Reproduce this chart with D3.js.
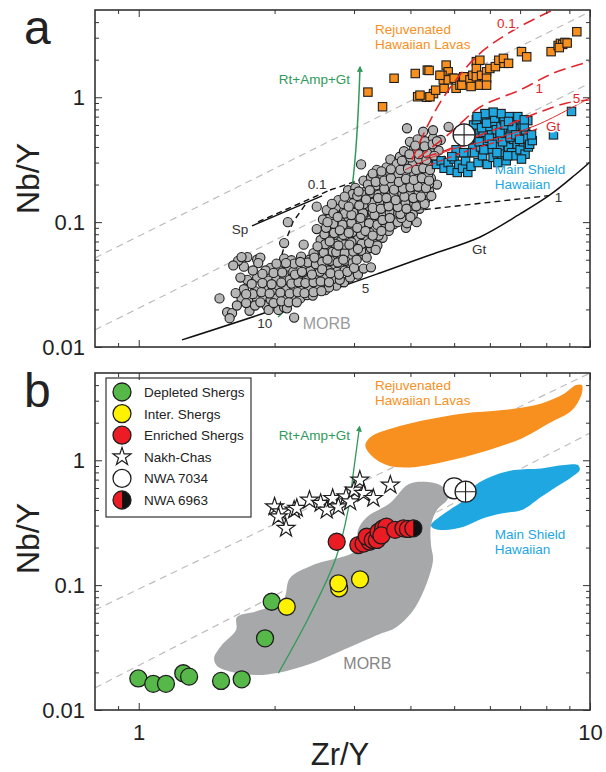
<!DOCTYPE html>
<html lang="en">
<head>
<meta charset="utf-8">
<title>Nb/Y vs Zr/Y</title>
<script src="https://d3js.org/d3.v7.min.js"></script>
<style>
  body { margin: 0; background: #fff; }
  svg { display: block; font-family: "Liberation Sans", Arial, sans-serif; }
</style>
</head>
<body>
<div id="chart"></div>
<script>
// ---------- axis ticks ----------
const xMajor = [1, 10];
const xMinor = [0.9, 2, 3, 4, 5, 6, 7, 8, 9];
const yMajor = [0.01, 0.1, 1];
const yMinor = [0.02, 0.03, 0.04, 0.05, 0.06, 0.07, 0.08, 0.09,
                0.2, 0.3, 0.4, 0.5, 0.6, 0.7, 0.8, 0.9, 2, 3, 4];

// ---------- panel a : points [Zr/Y, Nb/Y] ----------
const morbPoints = [
  [1.51,0.0245],[1.57,0.019],[1.61,0.0187],[1.59,0.017],[1.76,0.0195],[1.92,0.0215],[1.94,0.0198],[2.04,0.0198],[2.10,0.0208],[2.13,0.0204],[2.21,0.0172],
  [1.69,0.0245],[1.77,0.0248],[1.83,0.024],[1.89,0.0255],[1.96,0.024],[2.01,0.0258],[2.10,0.024],[2.19,0.025],[2.28,0.0245],[2.36,0.026],[2.43,0.0258],[2.59,0.0285],[2.74,0.031],
  [1.71,0.029],[1.81,0.028],[1.92,0.030],[1.98,0.0285],[2.04,0.031],[2.12,0.029],[2.21,0.0305],[2.29,0.0285],[2.38,0.030],[2.48,0.0295],[2.64,0.030],[2.85,0.033],[2.94,0.036],[3.06,0.038],
  [1.74,0.0345],[1.83,0.036],[1.94,0.034],[2.02,0.0355],[2.10,0.037],[2.16,0.0345],[2.27,0.0365],[2.36,0.035],[2.48,0.036],[2.58,0.0375],[2.69,0.035],
  [1.71,0.044],[1.96,0.043],[2.04,0.0415],[2.14,0.044],[2.25,0.042],[2.34,0.045],[2.43,0.0425],[2.58,0.044],[2.69,0.046],[2.80,0.043],[2.91,0.045],[3.15,0.0425],[3.27,0.0435],
  [1.66,0.049],[1.74,0.0525],[1.83,0.050],[1.86,0.052],[1.91,0.041],[1.84,0.047],[2.10,0.051],[2.18,0.0495],[2.29,0.053],[2.39,0.050],[2.51,0.052],[2.61,0.055],[2.71,0.051],[2.80,0.054],[2.94,0.052],[3.08,0.055],
  [2.10,0.068],[2.32,0.066],[2.53,0.060],[2.61,0.063],[2.69,0.058],[2.80,0.062],[2.91,0.060],[3.02,0.064],[3.18,0.058],[3.27,0.062],
  [2.53,0.072],[2.66,0.076],[2.80,0.070],[2.91,0.078],[3.06,0.073],[3.18,0.077],[3.31,0.071],[3.47,0.075],
  [2.14,0.100],[2.48,0.088],[2.64,0.085],[2.74,0.092],[2.85,0.088],[2.97,0.094],[3.09,0.086],[3.21,0.091],[3.34,0.087],[3.58,0.085],[3.91,0.090],
  [2.56,0.105],[2.66,0.112],[2.80,0.104],[2.91,0.110],[3.02,0.106],[3.15,0.114],[3.27,0.104],[3.40,0.110],[3.54,0.106],[3.69,0.112],[3.93,0.098],[4.13,0.100],
  [2.48,0.133],[2.61,0.125],[2.74,0.132],[2.85,0.122],[3.00,0.130],[3.12,0.124],[3.24,0.134],[3.37,0.126],[3.51,0.132],[3.65,0.124],[3.83,0.130],[3.99,0.124],[4.19,0.128],
  [2.77,0.150],[2.94,0.156],[3.06,0.148],[3.21,0.158],[3.34,0.150],[3.47,0.160],[3.61,0.150],[3.79,0.156],[3.99,0.148],[4.15,0.158],[4.31,0.150],
  [2.91,0.180],[3.02,0.188],[3.18,0.176],[3.31,0.186],[3.44,0.178],[3.58,0.190],[3.76,0.180],[3.91,0.188],[4.07,0.178],[4.23,0.186],[4.40,0.178],[4.58,0.200],
  [3.15,0.215],[3.27,0.228],[3.40,0.212],[3.54,0.230],[3.69,0.218],[3.83,0.232],[3.99,0.215],[4.15,0.228],[4.31,0.212],[4.44,0.225],
  [3.11,0.290],[3.37,0.262],[3.54,0.275],[3.69,0.258],[3.87,0.272],[4.02,0.260],[4.19,0.278],[4.31,0.262],
  [3.61,0.318],[3.79,0.334],[3.95,0.310],[4.10,0.330],[4.27,0.315],[4.40,0.335],
  [3.87,0.370],[4.07,0.385],[4.27,0.365],[4.44,0.395],[4.62,0.375],
  [3.99,0.440],[4.15,0.460],[4.31,0.445],[4.49,0.470],[4.67,0.455],
  [3.93,0.565],[4.27,0.530],[4.49,0.545],[4.86,0.580],
  [1.79,0.0265],[1.87,0.0275],[1.95,0.0268],[2.06,0.0272],[2.16,0.0268],[2.25,0.0275],[2.33,0.0270],[2.44,0.0275],[2.54,0.0280],
  [1.78,0.0320],[1.88,0.0325],[1.97,0.0318],[2.07,0.0328],[2.18,0.0322],[2.26,0.0330],[2.34,0.0325],[2.44,0.0330],[2.53,0.0335],[2.64,0.0330],[2.79,0.0345],
  [1.88,0.0385],[1.99,0.0392],[2.08,0.0395],[2.20,0.0400],[2.31,0.0395],[2.40,0.0405],[2.52,0.0400],[2.63,0.0410],[2.75,0.0400],[2.86,0.0410],
  [2.02,0.0465],[2.21,0.0465],[2.37,0.0475],[2.47,0.0460],[2.55,0.0480],[2.66,0.0490],[2.76,0.0475],[2.87,0.0490],[2.98,0.0470],
  [2.44,0.0565],[2.57,0.0570],[2.74,0.0575],[2.86,0.0565],[2.99,0.0580],[3.11,0.0590],
  [2.59,0.0665],[2.73,0.0670],[2.86,0.0660],[2.96,0.0690],[3.12,0.0670],[3.24,0.0680],[3.38,0.0650],
  [2.58,0.080],[2.71,0.082],[2.84,0.079],[2.97,0.083],[3.11,0.080],[3.25,0.082],[3.40,0.078],
  [2.70,0.097],[2.83,0.095],[2.96,0.099],[3.10,0.096],[3.24,0.098],[3.38,0.095],[3.52,0.097],[3.67,0.096],
  [2.70,0.118],[2.86,0.117],[2.99,0.119],[3.14,0.118],[3.30,0.120],[3.45,0.117],[3.60,0.119],[3.76,0.118],[4.05,0.115],
  [2.84,0.140],[2.99,0.142],[3.15,0.139],[3.29,0.143],[3.43,0.140],[3.57,0.142],[3.72,0.139],[3.90,0.141],[4.08,0.140],[4.25,0.138],
  [2.98,0.168],[3.13,0.166],[3.26,0.170],[3.40,0.166],[3.52,0.170],[3.67,0.167],[3.84,0.170],[4.00,0.166],[4.17,0.170],[4.35,0.166],
  [3.22,0.200],[3.36,0.197],[3.49,0.202],[3.63,0.198],[3.78,0.202],[3.93,0.197],[4.09,0.202],[4.25,0.197],[4.40,0.203],
  [3.30,0.245],[3.46,0.242],[3.61,0.247],[3.76,0.243],[3.92,0.247],[4.08,0.243],[4.24,0.247],[4.38,0.243],
  [3.73,0.292],[3.90,0.290],[4.05,0.295],[4.22,0.290],[4.36,0.295],
  [1.65,0.0215],[1.73,0.0225],[1.81,0.0215],[1.86,0.0228],[1.99,0.0225],[2.07,0.0232],[2.15,0.0228],[2.24,0.0228],
  [1.64,0.027],[1.73,0.0265],[1.68,0.036],[1.62,0.045],[1.79,0.041],[1.69,0.0525],
  [2.22,0.038],[2.30,0.040],[2.42,0.038],[2.55,0.042],[2.66,0.039],[2.78,0.038],[2.90,0.040],[3.00,0.043],
  [2.12,0.047],[2.28,0.048],[2.45,0.052],[2.62,0.050],[2.84,0.050],[3.04,0.050],[3.20,0.052],
  [2.49,0.064],[2.65,0.070],[2.77,0.065],[2.93,0.066],[3.06,0.061],[3.35,0.060],
  [2.60,0.090],[2.79,0.086],[2.92,0.082],[3.05,0.090],[3.18,0.085],[3.30,0.078],[3.45,0.085],[3.60,0.092],[3.75,0.100],[3.82,0.108],
  [2.62,0.100],[2.76,0.110],[2.96,0.114],[3.10,0.108],[3.33,0.114],[3.47,0.104],[3.60,0.108],[3.80,0.116],[4.00,0.110],
  [2.68,0.140],[2.92,0.133],[3.08,0.136],[3.30,0.130],[3.44,0.128],[3.58,0.134],[3.75,0.132],[3.92,0.128],[4.12,0.134],[4.30,0.140],
  [2.86,0.160],[3.05,0.162],[3.19,0.152],[3.39,0.156],[3.54,0.156],[3.71,0.150],[3.88,0.160],[4.06,0.156],[4.22,0.160],[4.45,0.162],
  [3.07,0.176],[3.25,0.180],[3.50,0.185],[3.68,0.182],[3.85,0.186],[4.00,0.190],[4.16,0.192],[4.33,0.188],
  [3.35,0.210],[3.50,0.215],[3.62,0.225],[3.77,0.210],[3.91,0.222],[4.07,0.218],[4.24,0.225],[4.40,0.215],
  [3.45,0.255],[3.62,0.265],[3.80,0.262],[3.95,0.268],[4.12,0.262],[4.27,0.270],[4.42,0.262],
  [3.83,0.310],[4.00,0.330],[4.18,0.320],[4.34,0.315],[3.98,0.350],[4.18,0.350],[4.36,0.355],[4.52,0.340],
  [4.10,0.410],[4.30,0.405],[4.48,0.420],[4.58,0.445]
];

const rejuvenatedPoints = [
  [3.22,1.10],[3.47,0.84],[3.68,1.42],[4.10,1.55],[4.36,1.65],[4.15,1.01],[4.35,1.00],[4.50,1.07],
  [4.42,1.01],[4.20,1.04],[4.55,1.14],[4.75,1.18],[4.80,1.81],[4.85,1.60],[4.70,1.50],[4.95,1.42],
  [4.73,1.38],[4.85,1.38],[5.00,1.42],[5.05,1.18],[5.15,1.25],[5.20,1.25],[5.25,1.46],[5.42,1.38],
  [5.45,1.22],[5.50,1.50],[5.60,1.93],[5.60,1.70],[5.60,1.46],[5.70,1.98],[5.70,1.25],[5.75,1.50],
  [5.90,1.60],[5.90,1.42],[5.90,1.25],[6.00,1.70],[6.17,1.76],[6.28,1.98],[6.45,1.87],[6.43,2.05],
  [6.60,1.87],[7.05,2.32],[7.24,2.11],[8.20,2.32],[8.50,2.60],[8.60,2.70],[8.70,2.65],[8.80,2.75],
  [8.55,2.50],[8.90,2.72],[9.35,3.35],[4.40,1.64],[4.65,1.50]
];

const mainShieldPoints = [
  [4.57,0.29],[4.68,0.31],[4.75,0.27],[4.85,0.30],[4.92,0.26],[5.00,0.32],[5.08,0.25],[5.12,0.29],
  [5.22,0.27],[5.30,0.31],[5.36,0.25],[5.45,0.28],[5.40,0.36],[5.15,0.36],[5.05,0.38],[4.94,0.335],[5.25,0.36],
  [5.50,0.42],[5.55,0.36],[5.62,0.48],[5.58,0.55],[5.65,0.30],[5.70,0.62],[5.72,0.40],[5.78,0.34],
  [5.80,0.52],[5.85,0.68],[5.88,0.45],[5.92,0.29],[5.95,0.58],[6.00,0.38],[6.02,0.72],[6.05,0.50],
  [6.10,0.33],[6.12,0.63],[6.18,0.44],[6.20,0.55],[6.25,0.30],[6.28,0.70],[6.30,0.40],[6.35,0.60],
  [6.38,0.35],[6.42,0.50],[6.45,0.66],[6.50,0.45],[6.52,0.31],[6.55,0.57],[6.60,0.40],[6.62,0.70],
  [6.68,0.52],[6.70,0.36],[6.75,0.62],[6.78,0.46],[6.82,0.34],[6.88,0.56],[6.90,0.42],[6.95,0.66],
  [7.00,0.38],[7.02,0.50],[7.08,0.60],[7.12,0.44],[7.18,0.35],[7.20,0.53],[7.25,0.47],[7.30,0.40],
  [7.35,0.42],[7.28,0.65],[5.40,0.46],[5.45,0.52],[5.52,0.60],[5.60,0.66],[5.68,0.44],[5.75,0.57],
  [5.82,0.38],[5.90,0.62],[5.98,0.47],[6.07,0.42],[6.15,0.68],[6.22,0.36],[6.32,0.52],[6.40,0.44],
  [6.48,0.60],[6.57,0.34],[6.65,0.48],[6.72,0.58],[6.85,0.50],[6.98,0.46],[7.05,0.32],[7.15,0.58],
  [6.35,0.74],[6.10,0.76],[5.85,0.74],[5.62,0.70],[6.60,0.64],[6.92,0.70],[7.15,0.66],
  [7.45,0.45],[7.42,0.50],[9.10,0.77],[8.30,0.50]
];

const crossedA = [[5.26, 0.50]];

// ---------- panel a : model curves ----------
const refLinesA = [
  [[0.8,0.0517],[10,4.85]],
  [[0.8,0.0137],[10,1.30]]
];
const gtCurve = [[1.247,0.0114],[2.057,0.0206],[3.425,0.0392],[4.42,0.0546],[5.71,0.0761],
                 [7.0,0.1163],[8.15,0.1651],[9.26,0.2386],[10,0.3034]];
const blackDashed = [
  [[2.654,0.181],[4.2,0.315]],
  [[3.89,0.121],[8.1,0.163]],
  [[1.838,0.1004],[2.654,0.181]],
  [[2.337,0.1373],[2.197,0.1004],[2.12,0.072],[2.067,0.0517],[2.015,0.0287]]
];
const spCurve = [[1.782,0.0932],[2.548,0.162]];
const greenA = [[2.036,0.0174],[2.301,0.0271],[2.614,0.0498],[2.865,0.1142],[2.969,0.1878],[3.093,1.748]];
const redMelt01 = [[4.03,0.315],[4.375,0.60],[4.77,1.04],[5.65,2.18],[6.78,3.46],[8.28,5.0]];
const redMelt1 = [[4.16,0.327],[4.90,0.518],[5.71,0.836],[7.0,1.144],[8.28,1.556],[9.97,1.93]];
const redMelt5 = [[4.31,0.333],[4.82,0.3785],[5.56,0.481],[6.42,0.582],[7.75,0.763],[8.89,0.90],[9.97,0.951]];
const redMeltGt = [[4.42,0.287],[5.42,0.3785],[6.65,0.472],[7.75,0.568]];
const redSolid = [[3.89,0.262],[4.90,0.3785],[6.0,0.455],[7.63,0.60],[9.97,0.987]];

// ---------- panel b ----------
const refLinesB = [
  [[0.8,0.0632],[10,4.99]],
  [[0.8,0.015],[10,1.65]]
];
const greenB = [[2.039,0.0197],[2.385,0.0558],[2.741,0.1688],[2.910,0.3994],[2.995,0.835],[3.085,1.855]];
const rejuvenatedField = [[3.27,1.542],[3.541,1.745],[4.313,2.099],[5.25,2.374],[6.40,2.523],[7.80,2.855],
  [8.78,3.432],[9.31,4.0],[9.59,4.0],[9.59,3.43],[9.13,2.523],[8.11,1.975],[7.06,1.497],[5.80,1.17],
  [4.76,0.973],[3.985,0.877],[3.541,0.915],[3.27,1.10],[3.178,1.323]];
const mainShieldField = [[4.443,0.303],[4.76,0.376],[5.25,0.48],[5.58,0.633],[6.03,0.738],[6.79,0.835],
  [7.80,0.861],[8.78,0.915],[9.40,0.915],[9.49,0.835],[9.13,0.738],[8.43,0.614],[7.80,0.51],[7.06,0.399],
  [6.40,0.376],[5.80,0.343],[5.25,0.2935],[4.76,0.276],[4.49,0.285]];
const morbField = [[4.489,0.159],[4.287,0.0913],[4.033,0.0609],[3.698,0.0453],[3.425,0.0406],[2.939,0.0319],
  [2.396,0.02335],[2.025,0.01978],[1.829,0.01906],[1.609,0.02014],[1.491,0.0225],[1.469,0.02609],
  [1.522,0.03254],[1.643,0.0437],[1.651,0.0555],[1.829,0.062],[2.088,0.076],[2.164,0.114],[2.433,0.1448],
  [3.03,0.191],[3.061,0.276],[3.205,0.351],[3.605,0.454],[3.97,0.645],[4.376,0.669],[4.725,0.61],
  [4.846,0.498],[4.581,0.399],[4.443,0.303],[4.443,0.2095]];

const depletedShergs = [[0.998,0.0179],[1.077,0.0162],[1.149,0.0162],[1.255,0.0197],[1.293,0.0185],
  [1.522,0.0171],[1.691,0.0176],[1.971,0.0736],[1.905,0.0375]];
const interShergs = [[2.128,0.0671],[2.78,0.0943],[2.769,0.1034],[3.093,0.1113]];
const enrichedShergs = [[2.746,0.2226],[3.066,0.2095],[3.15,0.215],[3.25,0.2226],[3.20,0.244],[3.30,0.23],
  [3.37,0.23],[3.40,0.268],[3.48,0.285],[3.54,0.294],[3.45,0.25],[3.70,0.277],[3.86,0.285],[3.95,0.282]];
const nakhChas = [[2.0,0.424],[2.06,0.387],[2.04,0.353],[2.12,0.285],[2.21,0.399],[2.24,0.412],[2.39,0.48],
  [2.53,0.452],[2.61,0.399],[2.69,0.495],[2.77,0.424],[2.88,0.51],[2.94,0.465],[3.0,0.577],[3.09,0.694],
  [3.15,0.543],[3.31,0.495],[3.61,0.633]];
const nwa7034 = [[5.0,0.596]];
const crossedB = [[5.3,0.56]];
const nwa6963 = [[4.06,0.285]];

const legendItems = ["Depleted Shergs", "Inter. Shergs", "Enriched Shergs", "Nakh-Chas", "NWA 7034", "NWA 6963"];

// ---------- colours ----------
const C = {
  orange: "#f7901e", blue: "#1ea7e1", gray: "#a7a8aa", pt: "#b6b6b6",
  green: "#56b848", yellow: "#fff200", red: "#ec1c24", line: "#2f9a5a", redLine: "#e2262b",
  ref: "#bdbdbd", ink: "#1e1e1e"
};

const W = 606, H = 772;
const L = 95, R = 590;
const panels = { a: [10, 347], b: [373, 710] };

const svg = d3.select("#chart").append("svg").attr("width", W).attr("height", H);
const defs = svg.append("defs");

const x = d3.scaleLog().domain([0.8, 10]).range([L, R]);
const yA = d3.scaleLog().domain([0.01, 5]).range([panels.a[1], panels.a[0]]);
const yB = d3.scaleLog().domain([0.01, 5]).range([panels.b[1], panels.b[0]]);

["a", "b"].forEach(k => {
  defs.append("clipPath").attr("id", "clip-" + k).append("rect")
    .attr("x", L).attr("y", panels[k][0]).attr("width", R - L).attr("height", panels[k][1] - panels[k][0]);
});
["A", "B"].forEach(k => {
  defs.append("marker").attr("id", "arrow" + k).attr("viewBox", "0 0 10 10")
    .attr("refX", 8).attr("refY", 5).attr("markerWidth", 6).attr("markerHeight", 6)
    .attr("markerUnits", "userSpaceOnUse").attr("orient", "auto")
    .append("path").attr("d", "M0,0L10,5L0,10z").attr("fill", C.line);
});

function lineGen(y, curve) {
  return d3.line().x(d => x(d[0])).y(d => y(d[1])).curve(curve || d3.curveLinear);
}

function drawAxes(y, top, bottom, xLabels) {
  const g = svg.append("g").attr("class", "axes");
  const fmt = d => String(d);
  const put = (axis, tr) => {
    const a = g.append("g").attr("transform", tr).call(axis);
    a.select(".domain").remove();
    a.selectAll("line").attr("stroke", "#333").attr("stroke-width", 1);
    a.selectAll("text").attr("font-size", 22).attr("fill", "#222")
      .attr("font-family", '"Liberation Sans", Arial, sans-serif');
    return a;
  };
  put(d3.axisBottom(x).tickValues(xMajor).tickSize(-7).tickPadding(14).tickFormat(xLabels ? fmt : ""), `translate(0,${bottom})`);
  put(d3.axisBottom(x).tickValues(xMinor).tickSize(-4).tickFormat(""), `translate(0,${bottom})`);
  put(d3.axisTop(x).tickValues(xMajor).tickSize(-7).tickFormat(""), `translate(0,${top})`);
  put(d3.axisTop(x).tickValues(xMinor).tickSize(-4).tickFormat(""), `translate(0,${top})`);
  put(d3.axisLeft(y).tickValues(yMajor).tickSize(-7).tickPadding(10).tickFormat(fmt), `translate(${L},0)`);
  put(d3.axisLeft(y).tickValues(yMinor).tickSize(-4).tickFormat(""), `translate(${L},0)`);
  put(d3.axisRight(y).tickValues(yMajor).tickSize(-7).tickFormat(""), `translate(${R},0)`);
  put(d3.axisRight(y).tickValues(yMinor).tickSize(-4).tickFormat(""), `translate(${R},0)`);
  g.append("rect").attr("x", L).attr("y", top).attr("width", R - L).attr("height", bottom - top)
    .attr("fill", "none").attr("stroke", "#333").attr("stroke-width", 1.6);
}

function label(g, y, text, dx, dy, opts) {
  const t = g.append("text").attr("x", x(dx)).attr("y", y(dy)).text(text)
    .attr("font-size", opts.size || 13.5).attr("fill", opts.color || "#333")
    .attr("text-anchor", opts.anchor || "start");
  if (opts.halo) t.attr("stroke", "#fff").attr("stroke-width", 3).attr("paint-order", "stroke");
  return t;
}

function crossCircle(g, cx, cy, r) {
  g.append("circle").attr("cx", cx).attr("cy", cy).attr("r", r)
    .attr("fill", "#fff").attr("stroke", C.ink).attr("stroke-width", 1.3);
  g.append("path").attr("d", `M${cx - r},${cy}H${cx + r}M${cx},${cy - r}V${cy + r}`)
    .attr("stroke", C.ink).attr("stroke-width", 1.1);
}

// ================= panel a =================
const ga = svg.append("g").attr("clip-path", "url(#clip-a)");
const la = lineGen(yA);

ga.selectAll(".ref").data(refLinesA).join("path").attr("d", la)
  .attr("fill", "none").attr("stroke", C.ref).attr("stroke-width", 1.2).attr("stroke-dasharray", "7,5");

ga.append("path").attr("d", lineGen(yA, d3.curveCatmullRom)(gtCurve))
  .attr("fill", "none").attr("stroke", "#111").attr("stroke-width", 1.5);
ga.append("path").attr("d", la(spCurve)).attr("fill", "none").attr("stroke", "#111").attr("stroke-width", 1.4);
ga.selectAll(".bd").data(blackDashed).join("path").attr("d", la)
  .attr("fill", "none").attr("stroke", "#111").attr("stroke-width", 1.4).attr("stroke-dasharray", "6,4");

ga.append("path").attr("d", lineGen(yA, d3.curveMonotoneY)(greenA))
  .attr("fill", "none").attr("stroke", C.line).attr("stroke-width", 1.5).attr("marker-end", "url(#arrowA)");

ga.selectAll(".morb").data(morbPoints).join("circle")
  .attr("cx", d => x(d[0])).attr("cy", d => yA(d[1])).attr("r", 4.6)
  .attr("fill", C.pt).attr("stroke", C.ink).attr("stroke-width", 1.1);

const sq = 8.4;
ga.selectAll(".rej").data(rejuvenatedPoints).join("rect")
  .attr("x", d => x(d[0]) - sq / 2).attr("y", d => yA(d[1]) - sq / 2).attr("width", sq).attr("height", sq)
  .attr("fill", C.orange).attr("stroke", C.ink).attr("stroke-width", 1.1);
ga.selectAll(".msh").data(mainShieldPoints).join("rect")
  .attr("x", d => x(d[0]) - sq / 2).attr("y", d => yA(d[1]) - sq / 2).attr("width", sq).attr("height", sq)
  .attr("fill", C.blue).attr("stroke", C.ink).attr("stroke-width", 1.1);

const lc = lineGen(yA, d3.curveCatmullRom);
[redMelt01, redMelt1, redMelt5].forEach(d => {
  ga.append("path").attr("d", lc(d)).attr("fill", "none").attr("stroke", C.redLine)
    .attr("stroke-width", 1.6).attr("stroke-dasharray", "12,6");
});
ga.append("path").attr("d", lc(redMeltGt)).attr("fill", "none").attr("stroke", C.redLine)
  .attr("stroke-width", 1.4).attr("stroke-dasharray", "5,4");
ga.append("path").attr("d", lc(redSolid)).attr("fill", "none").attr("stroke", C.redLine).attr("stroke-width", 1);

crossedA.forEach(d => crossCircle(ga, x(d[0]), yA(d[1]), 11));

const ta = svg.append("g");
label(ta, yA, "Rejuvenated", 3.34, 3.21, { color: C.orange });
label(ta, yA, "Hawaiian Lavas", 3.34, 2.44, { color: C.orange });
label(ta, yA, "Main Shield", 6.15, 0.241, { color: C.blue });
label(ta, yA, "Hawaiian", 6.15, 0.183, { color: C.blue });
label(ta, yA, "Rt+Amp+Gt", 2.94, 1.266, { color: C.line, anchor: "end" });
label(ta, yA, "0.1", 2.484, 0.183, { anchor: "middle" });
label(ta, yA, "Sp", 1.677, 0.0797, { anchor: "middle" });
label(ta, yA, "1", 8.52, 0.1437, { anchor: "middle" });
label(ta, yA, "Gt", 5.68, 0.0551, { anchor: "middle" });
label(ta, yA, "5", 3.18, 0.0272, { anchor: "middle" });
label(ta, yA, "10", 1.903, 0.01427, { anchor: "middle" });
label(ta, yA, "MORB", 2.609, 0.01396, { anchor: "middle", color: "#9a9a9a", size: 16 });
label(ta, yA, "0.1", 6.53, 3.59, { anchor: "middle", color: C.redLine, halo: true });
label(ta, yA, "1", 7.72, 1.082, { anchor: "middle", color: C.redLine, halo: true });
label(ta, yA, "5", 9.33, 0.90, { anchor: "middle", color: C.redLine, halo: true });
label(ta, yA, "Gt", 8.28, 0.537, { anchor: "middle", color: C.redLine, halo: true });

drawAxes(yA, panels.a[0], panels.a[1], false);

// ================= panel b =================
const gb = svg.append("g").attr("clip-path", "url(#clip-b)");
const lb = lineGen(yB);
gb.selectAll(".ref").data(refLinesB).join("path").attr("d", lb)
  .attr("fill", "none").attr("stroke", C.ref).attr("stroke-width", 1.2).attr("stroke-dasharray", "7,5");

const field = lineGen(yB, d3.curveCatmullRomClosed.alpha(0.5));
gb.append("path").attr("d", field(rejuvenatedField)).attr("fill", C.orange);
gb.append("path").attr("d", field(mainShieldField)).attr("fill", C.blue);
gb.append("path").attr("d", field(morbField)).attr("fill", C.gray);

gb.append("path").attr("d", lineGen(yB, d3.curveMonotoneY)(greenB))
  .attr("fill", "none").attr("stroke", C.line).attr("stroke-width", 1.3).attr("marker-end", "url(#arrowB)");

const star = d3.symbol(d3.symbolStar, 100);
gb.selectAll(".star").data(nakhChas).join("path")
  .attr("transform", d => `translate(${x(d[0])},${yB(d[1])})`).attr("d", star)
  .attr("fill", "#fff").attr("stroke", C.ink).attr("stroke-width", 1.2);

const dot = (data, fill) => gb.selectAll(null).data(data).join("circle")
  .attr("cx", d => x(d[0])).attr("cy", d => yB(d[1])).attr("r", 8.5)
  .attr("fill", fill).attr("stroke", C.ink).attr("stroke-width", 1.3);
dot(depletedShergs, C.green);
dot(interShergs, C.yellow);
dot(enrichedShergs, C.red);

function halfDot(g, cx, cy, r) {
  const arc = d3.arc().innerRadius(0).outerRadius(r);
  g.append("path").attr("transform", `translate(${cx},${cy})`)
    .attr("d", arc({ startAngle: Math.PI, endAngle: 2 * Math.PI })).attr("fill", C.red);
  g.append("path").attr("transform", `translate(${cx},${cy})`)
    .attr("d", arc({ startAngle: 0, endAngle: Math.PI })).attr("fill", "#111");
  g.append("circle").attr("cx", cx).attr("cy", cy).attr("r", r)
    .attr("fill", "none").attr("stroke", C.ink).attr("stroke-width", 1.3);
}
nwa6963.forEach(d => halfDot(gb, x(d[0]), yB(d[1]), 8.5));
nwa7034.forEach(d => gb.append("circle").attr("cx", x(d[0])).attr("cy", yB(d[1])).attr("r", 10.5)
  .attr("fill", "#fff").attr("stroke", C.ink).attr("stroke-width", 1.3));
crossedB.forEach(d => crossCircle(gb, x(d[0]), yB(d[1]), 10.5));

const tb = svg.append("g");
label(tb, yB, "Rejuvenated", 3.34, 3.64, { color: C.orange });
label(tb, yB, "Hawaiian Lavas", 3.34, 2.76, { color: C.orange });
label(tb, yB, "Main Shield", 6.15, 0.236, { color: C.blue });
label(tb, yB, "Hawaiian", 6.15, 0.178, { color: C.blue });
label(tb, yB, "Rt+Amp+Gt", 2.94, 1.446, { color: C.line, anchor: "end" });
label(tb, yB, "MORB", 3.21, 0.0213, { anchor: "middle", color: "#858585", size: 16 });

// legend
const lg = svg.append("g").attr("transform", "translate(106,378)");
lg.append("rect").attr("width", 145).attr("height", 139).attr("fill", "#fff")
  .attr("stroke", "#333").attr("stroke-width", 1.2);
legendItems.forEach((name, i) => {
  const cy = 14 + i * 21.6, cx = 16;
  if (i === 3) {
    lg.append("path").attr("transform", `translate(${cx},${cy})`).attr("d", star)
      .attr("fill", "#fff").attr("stroke", C.ink).attr("stroke-width", 1.2);
  } else if (i === 5) {
    halfDot(lg, cx, cy, 9);
  } else {
    const f = [C.green, C.yellow, C.red, null, "#fff"][i];
    lg.append("circle").attr("cx", cx).attr("cy", cy).attr("r", 9)
      .attr("fill", f).attr("stroke", C.ink).attr("stroke-width", 1.3);
  }
  lg.append("text").attr("x", 38).attr("y", cy + 5).text(name)
    .attr("font-size", 13.5).attr("fill", "#222");
});

drawAxes(yB, panels.b[0], panels.b[1], true);

// ---------- titles ----------
svg.append("text").attr("x", 24).attr("y", 44).text("a").attr("font-size", 48).attr("fill", "#222");
svg.append("text").attr("x", 24).attr("y", 407).text("b").attr("font-size", 48).attr("fill", "#222");
svg.append("text").attr("transform", `translate(39,${(panels.a[0] + panels.a[1]) / 2}) rotate(-90)`)
  .attr("text-anchor", "middle").attr("font-size", 32).attr("fill", "#222").text("Nb/Y");
svg.append("text").attr("transform", `translate(39,${(panels.b[0] + panels.b[1]) / 2 - 3}) rotate(-90)`)
  .attr("text-anchor", "middle").attr("font-size", 32).attr("fill", "#222").text("Nb/Y");
svg.append("text").attr("x", 340).attr("y", 765).attr("text-anchor", "middle")
  .attr("font-size", 31).attr("fill", "#222").text("Zr/Y");
</script>
</body>
</html>
